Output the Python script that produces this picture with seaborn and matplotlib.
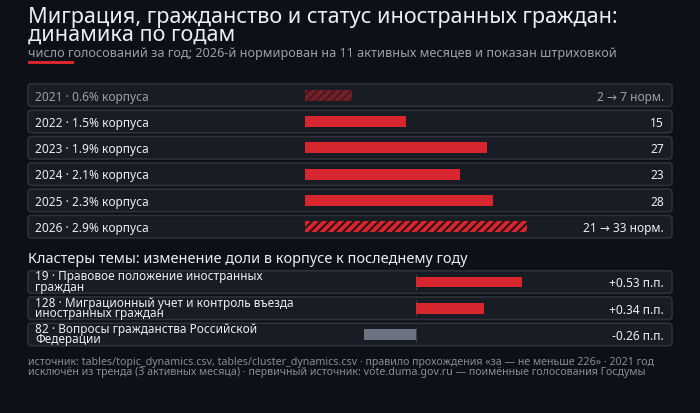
import numpy as np
import pandas as pd
import matplotlib
matplotlib.use("Agg")
import matplotlib.pyplot as plt
import matplotlib.transforms as mtransforms
from matplotlib.patches import FancyBboxPatch
import seaborn as sns

# --- data -------------------------------------------------------------
years = [2021, 2022, 2023, 2024, 2025, 2026]
share_pct = [0.6, 1.5, 1.9, 2.1, 2.3, 2.9]
votes_raw = [2, 15, 27, 23, 28, 21]
votes_norm = [7, None, None, None, None, 33]  # partial years, normalised

clusters = ["19 · Правовое положение иностранных\nграждан",
            "128 · Миграционный учет и контроль въезда\nиностранных граждан",
            "82 · Вопросы гражданства Российской\nФедерации"]
cluster_delta = [0.53, 0.34, -0.26]

title = "Миграция, гражданство и статус иностранных граждан:\nдинамика по годам"
subtitle = "число голосований за год; 2026-й нормирован на 11 активных месяцев и показан штриховкой"
section2 = "Кластеры темы: изменение доли в корпусе к последнему году"
footer = ["источник: tables/topic_dynamics.csv, tables/cluster_dynamics.csv · правило прохождения «за — не меньше 226» · 2021 год",
          "исключён из тренда (3 активных месяца) · первичный источник: vote.duma.gov.ru — поимённые голосования Госдумы"]

# --- style ------------------------------------------------------------
BG = "#0d1016"
ROW_FILL = "#181c24"
ROW_EDGE = "#2c313b"
RED = "#d7262e"
RED_DIM = "#74202a"
GREY_BAR = "#6b7280"
TXT = "#eceef2"
TXT_DIM = "#9aa0aa"
TXT_FOOT = "#878c96"

sns.set_theme(style="dark")
plt.rcParams["font.family"] = ["Noto Sans", "DejaVu Sans"]
plt.rcParams["hatch.linewidth"] = 1.5

W, H = 700, 414
fig = plt.figure(figsize=(W / 100, H / 100), dpi=100, facecolor=BG)
# pixel coords, origin top-left
px = mtransforms.Affine2D().scale(1 / W, -1 / H).translate(0, 1) + fig.transFigure


def add_axes_px(x0, y0, x1, y1):
    ax = fig.add_axes([x0 / W, 1 - y1 / H, (x1 - x0) / W, (y1 - y0) / H])
    ax.set_facecolor("none")
    ax.set_axis_off()
    return ax


def row_box(yc, h=22.5):
    fig.patches.append(FancyBboxPatch((28, yc - h / 2), 644, h,
                                      boxstyle="round,pad=0,rounding_size=3.5",
                                      transform=px, facecolor=ROW_FILL,
                                      edgecolor=ROW_EDGE, linewidth=1.2,
                                      zorder=-5))


# --- header -----------------------------------------------------------
# multi-line text with va=baseline sits on the last line
fig.text(28, 40.5, title, transform=px, color=TXT, fontsize=15.6,
         va="baseline", ha="left", linespacing=0.75)
fig.text(28, 56.5, subtitle, transform=px, color=TXT_DIM, fontsize=9.1,
         va="baseline", ha="left")
fig.patches.append(plt.Rectangle((28, 62), 46, 2.6, transform=px,
                                 facecolor=RED, edgecolor="none"))

# --- years panel ------------------------------------------------------
pitch = 26.3
c0 = 96.2
ax1 = add_axes_px(28, c0 - pitch / 2, 672, c0 + pitch * 5.5)
plot_vals = [n if n is not None else r for r, n in zip(votes_raw, votes_norm)]
df = pd.DataFrame({"year": [str(y) for y in years], "votes": plot_vals})
sns.barplot(data=df, x="votes", y="year", orient="h", color=RED,
            width=0.42, ax=ax1, saturation=1)
ax1.set_xlim(-41.16, 54.53)
ax1.set_ylim(5.5, -0.5)
ax1.set_axis_off()

for i, bar in enumerate(ax1.patches):
    bar.set_linewidth(0)
    if i == 0:
        bar.set_facecolor(RED_DIM)
        bar.set_edgecolor("#4a171c")
        bar.set_hatch("////")
    elif votes_norm[i] is not None:
        bar.set_facecolor(RED)
        bar.set_edgecolor("#2a1417")
        bar.set_hatch("////")

ytr1 = mtransforms.blended_transform_factory(px, ax1.transData)
lab_tr = mtransforms.offset_copy(ytr1, fig=fig, y=-4.4, units="dots")
for i, y in enumerate(years):
    row_box(c0 + pitch * i)
    col = TXT_DIM if i == 0 else TXT
    ax1.text(35, i, f"{y} · {share_pct[i]}% корпуса", transform=lab_tr,
             color=col, fontsize=8.6, va="baseline", ha="left")
    if votes_norm[i] is not None:
        val = f"{votes_raw[i]} → {votes_norm[i]} норм."
    else:
        val = f"{votes_raw[i]}"
    ax1.text(664, i, val, transform=lab_tr, color=col, fontsize=8.6,
             va="baseline", ha="right")

# --- clusters panel ---------------------------------------------------
fig.text(28, 262.7, section2, transform=px, color=TXT, fontsize=10.4,
         va="baseline", ha="left")

cp = 26.25
cc0 = 283.0
ax2 = add_axes_px(28, cc0 - cp / 2, 672, cc0 + cp * 2.5)
dfc = pd.DataFrame({"cluster": clusters, "delta": cluster_delta})
bar_cols = [RED if d >= 0 else GREY_BAR for d in cluster_delta]
sns.barplot(data=dfc, x="delta", y="cluster", hue="cluster", orient="h",
            palette=bar_cols, legend=False, width=0.41, ax=ax2, saturation=1)
ax2.set_xlim(-1.95, 1.286)
ax2.set_ylim(2.5, -0.5)
ax2.set_axis_off()
for bar in ax2.patches:
    bar.set_linewidth(0)
rows = np.arange(len(clusters))
ax2.vlines(np.zeros(len(rows)), rows - 0.3, rows + 0.3, color="#3a3f4a",
           linewidth=0.8, zorder=0)

ytr2 = mtransforms.blended_transform_factory(px, ax2.transData)
t2 = mtransforms.offset_copy(ytr2, fig=fig, y=-7.7, units="dots")
tv = mtransforms.offset_copy(ytr2, fig=fig, y=-4.4, units="dots")
for i, name in enumerate(clusters):
    row_box(cc0 + cp * i)
    ax2.text(35, i, name, transform=t2, color=TXT, fontsize=8.5,
             va="baseline", ha="left", linespacing=0.74)
    ax2.text(664, i, f"{cluster_delta[i]:+.2f} п.п.", transform=tv,
             color=TXT, fontsize=8.6, va="baseline", ha="right")

# --- footer -----------------------------------------------------------
fig.text(28, 375.5, "\n".join(footer), transform=px, color=TXT_FOOT,
         fontsize=7.65, va="baseline", ha="left", linespacing=0.95)

fig.savefig("out.png", dpi=100, facecolor=BG)
